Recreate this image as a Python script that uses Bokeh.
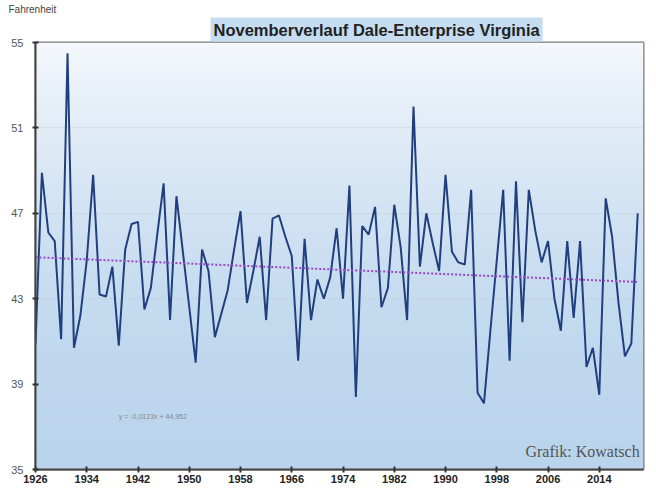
import numpy as np
from bokeh.plotting import figure
from bokeh.models import Range1d, FixedTicker, Label, Title
from bokeh.embed import file_html
from bokeh.resources import INLINE

# ---- data ----
years = list(range(1926, 2021))
temps = [
    40.9, 48.9, 46.1, 45.7, 41.1, 54.5, 40.7, 42.2, 44.8, 48.8,   # 1926-1935
    43.2, 43.1, 44.5, 40.8, 45.3, 46.5, 46.6, 42.5, 43.5, 46.0,   # 1936-1945
    48.4, 42.0, 47.8, 45.2, 42.6, 40.0, 45.3, 44.3, 41.2, 42.3,   # 1946-1955
    43.4, 45.3, 47.1, 42.8, 44.3, 45.9, 42.0, 46.75, 46.9, 45.9,  # 1956-1965
    45.0, 40.1, 45.8, 42.0, 43.9, 43.0, 44.0, 46.3, 43.0, 48.3,   # 1966-1975
    38.4, 46.4, 46.0, 47.3, 42.6, 43.5, 47.4, 45.4, 42.0, 52.0,   # 1976-1985
    44.5, 47.0, 45.6, 44.3, 48.8, 45.2, 44.7, 44.6, 48.1, 38.6,   # 1986-1995
    38.1, 41.5, 44.8, 48.1, 40.1, 48.5, 41.9, 48.1, 46.2, 44.7,   # 1996-2005
    45.7, 43.0, 41.5, 45.7, 42.1, 45.7, 39.8, 40.7, 38.5, 47.7,   # 2006-2015
    45.9, 42.8, 40.3, 40.9, 47.0,                                 # 2016-2020
]
x_ticks = list(range(1926, 2021, 8))
y_ticks = [35, 39, 43, 47, 51, 55]
trend_slope = -0.0123
trend_intercept = 44.952
trend_label = "y = -0,0123x + 44,952"
title_text = "Novemberverlauf Dale-Enterprise Virginia"
unit_text = "Fahrenheit"
credit_text = "Grafik: Kowatsch"

trend = [trend_slope * (i + 1) + trend_intercept for i in range(len(years))]

X0, X1 = 1926, 2020.9
Y0, Y1 = 35, 55

p = figure(width=648, height=488, output_backend="svg", toolbar_location=None,
           x_range=Range1d(X0, X1), y_range=Range1d(Y0, Y1),
           min_border_left=35, min_border_right=5, min_border_top=42, min_border_bottom=19)
p.background_fill_color = "white"
p.border_fill_color = "white"
p.outline_line_color = "#7a7a7a"
p.outline_line_width = 2

# gradient background for the plot area
n = 200
t = np.linspace(0, 1, n)  # 0 bottom, 1 top
stops_t = [0.0, 0.35, 0.6, 0.85, 1.0]
stops_c = [(0xb9, 0xd4, 0xec), (0xc3, 0xda, 0xef), (0xd2, 0xe3, 0xf3), (0xe6, 0xef, 0xf8), (0xf5, 0xf8, 0xfc)]
img = np.empty((n, 1), dtype=np.uint32)
view = img.view(dtype=np.uint8).reshape((n, 1, 4))
for ch in range(3):
    view[:, 0, ch] = np.interp(t, stops_t, [c[ch] for c in stops_c]).astype(np.uint8)
view[:, 0, 3] = 255
p.image_rgba(image=[img], x=X0, y=Y0, dw=X1 - X0, dh=Y1 - Y0, level="image")

# series
p.line(years, temps, line_color="#213f7e", line_width=2)
p.line(years, trend, line_color="#9a46c6", line_width=2, line_dash="2 2")

# axes
p.xaxis.ticker = FixedTicker(ticks=x_ticks)
p.yaxis.ticker = FixedTicker(ticks=y_ticks)
p.xaxis.minor_tick_line_color = None
p.yaxis.minor_tick_line_color = None
for ax in (p.xaxis[0], p.yaxis[0]):
    ax.axis_line_width = 2
    ax.axis_line_color = "#444444"
    ax.major_tick_line_color = "#333333"
    ax.major_tick_line_width = 2
    ax.major_tick_in = 3
    ax.major_tick_out = 3
p.xaxis.major_label_text_font = "Liberation Sans"
p.xaxis.major_label_text_font_style = "bold"
p.xaxis.major_label_text_font_size = "11px"
p.xaxis.major_label_text_color = "#222222"
p.xaxis.major_label_standoff = 2
p.yaxis.major_label_text_font = "Liberation Sans"
p.yaxis.major_label_text_font_size = "11px"
p.yaxis.major_label_text_color = "#555555"
p.yaxis.major_label_standoff = 9

p.xgrid.grid_line_color = None
p.ygrid.grid_line_color = "#c9c9c9"
p.ygrid.grid_line_alpha = 0.35

# titles (above the frame)
main_title = Title(text=title_text, align="left", offset=175, standoff=2,
                   text_font="Liberation Sans", text_font_style="bold", text_font_size="16.5px",
                   text_color="#222222", background_fill_color="#c6dcf0", padding=3)
unit_title = Title(text=unit_text, align="left", offset=-27, standoff=0,
                   text_font="Liberation Sans", text_font_style="normal", text_font_size="10px",
                   text_color="#444444")
p.add_layout(main_title, "above")
p.add_layout(unit_title, "above")

# texts inside the plot area
p.add_layout(Label(x=2020.3, y=35.85, text=credit_text, text_align="right", text_baseline="alphabetic",
                   text_font="Liberation Serif", text_font_size="16px", text_color="#555555"))
p.add_layout(Label(x=1939.0, y=37.5, text=trend_label, text_align="left", text_baseline="middle",
                   text_font="Liberation Sans", text_font_size="7px", text_color="#888888"))

open("out.html", "w").write(file_html(p, INLINE))
